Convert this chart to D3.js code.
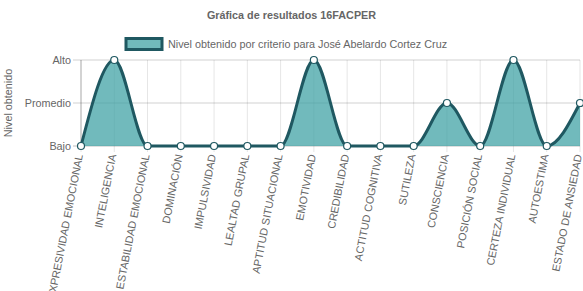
<!DOCTYPE html>
<html>
<head>
<meta charset="utf-8">
<script src="https://cdn.jsdelivr.net/npm/d3@7"></script>
<style>
  body { margin: 0; background: #fff; }
  svg text { font-family: "Liberation Sans", Arial, sans-serif; }
</style>
</head>
<body>
<svg id="chart"></svg>
<script>
const categorias = ["EXPRESIVIDAD EMOCIONAL", "INTELIGENCIA", "ESTABILIDAD EMOCIONAL", "DOMINACIÓN",
    "IMPULSIVIDAD", "LEALTAD GRUPAL", "APTITUD SITUACIONAL", "EMOTIVIDAD", "CREDIBILIDAD",
    "ACTITUD COGNITIVA", "SUTILEZA", "CONSCIENCIA", "POSICIÓN SOCIAL", "CERTEZA INDIVIDUAL",
    "AUTOESTIMA", "ESTADO DE ANSIEDAD"];
const niveles = [0, 2, 0, 0, 0, 0, 0, 2, 0, 0, 0, 1, 0, 2, 0, 1];
const nivelesEtiquetas = ["Bajo", "Promedio", "Alto"];
const titulo = "Gráfica de resultados 16FACPER";
const leyenda = "Nivel obtenido por criterio para José Abelardo Cortez Cruz";
const ejeY = "Nivel obtenido";

const width = 583, height = 291;
const margin = ({top: 60, right: 3, bottom: 145, left: 81});
const lineColor = "#1f5861";
const fillColor = "rgba(66,163,166,0.75)";
const textColor = "#666";
const fs = "10.8px";

const svg = d3.select("#chart")
    .attr("width", width)
    .attr("height", height)
    .attr("viewBox", [0, 0, width, height]);

const data = categorias.map((c, i) => ({name: c, value: niveles[i]}));

const x = d3.scalePoint()
    .domain(categorias)
    .range([margin.left, width - margin.right]);

const y = d3.scaleLinear()
    .domain([0, 2])
    .range([height - margin.bottom, margin.top]);

// title
svg.append("text")
    .attr("x", width / 2)
    .attr("y", 19)
    .attr("text-anchor", "middle")
    .attr("fill", textColor)
    .style("font-size", fs)
    .style("font-weight", "bold")
    .text(titulo);

// legend
svg.append("rect")
    .attr("x", 126)
    .attr("y", 38.5)
    .attr("width", 36)
    .attr("height", 11)
    .attr("fill", fillColor)
    .attr("stroke", lineColor)
    .attr("stroke-width", 3);
svg.append("text")
    .attr("x", 168)
    .attr("y", 48)
    .attr("fill", textColor)
    .style("font-size", fs)
    .text(leyenda);

// grid
const grid = svg.append("g");
grid.selectAll("line.v")
    .data(categorias)
    .join("line")
    .attr("class", "v")
    .attr("x1", d => x(d)).attr("x2", d => x(d))
    .attr("y1", y(2)).attr("y2", y(0) + 6)
    .attr("stroke", "rgba(0,0,0,0.1)");
grid.selectAll("line.h")
    .data([0, 1, 2])
    .join("line")
    .attr("class", "h")
    .attr("x1", margin.left - 8).attr("x2", width - margin.right)
    .attr("y1", d => y(d)).attr("y2", d => y(d))
    .attr("stroke", d => d === 0 ? "rgba(0,0,0,0.25)" : "rgba(0,0,0,0.18)");
// y axis line
svg.append("line")
    .attr("x1", margin.left).attr("x2", margin.left)
    .attr("y1", y(2)).attr("y2", y(0))
    .attr("stroke", "rgba(0,0,0,0.25)");

// y labels
svg.append("g")
    .selectAll("text")
    .data([0, 1, 2])
    .join("text")
    .attr("x", margin.left - 10)
    .attr("y", d => y(d))
    .attr("dy", "0.35em")
    .attr("text-anchor", "end")
    .attr("fill", textColor)
    .style("font-size", fs)
    .text(d => nivelesEtiquetas[d]);

svg.append("text")
    .attr("transform", `translate(12,${(y(0) + y(2)) / 2}) rotate(-90)`)
    .attr("text-anchor", "middle")
    .attr("fill", textColor)
    .style("font-size", fs)
    .text(ejeY);

// x labels
svg.append("g")
    .selectAll("text")
    .data(categorias)
    .join("text")
    .attr("transform", d => `translate(${x(d) + 2},${y(0) + 9}) rotate(-79)`)
    .attr("text-anchor", "end")
    .attr("fill", textColor)
    .style("font-size", fs)
    .text(d => d);

// area + line
const area = d3.area()
    .x(d => x(d.name))
    .y0(y(0))
    .y1(d => y(d.value))
    .curve(d3.curveMonotoneX);
const line = d3.line()
    .x(d => x(d.name))
    .y(d => y(d.value))
    .curve(d3.curveMonotoneX);

svg.append("path")
    .datum(data)
    .attr("d", area)
    .attr("fill", fillColor);
svg.append("path")
    .datum(data)
    .attr("d", line)
    .attr("fill", "none")
    .attr("stroke", lineColor)
    .attr("stroke-width", 3);

svg.append("g")
    .selectAll("circle")
    .data(data)
    .join("circle")
    .attr("cx", d => x(d.name))
    .attr("cy", d => y(d.value))
    .attr("r", 3.5)
    .attr("fill", "#fff")
    .attr("stroke", lineColor)
    .attr("stroke-width", 1.2);
</script>
</body>
</html>
